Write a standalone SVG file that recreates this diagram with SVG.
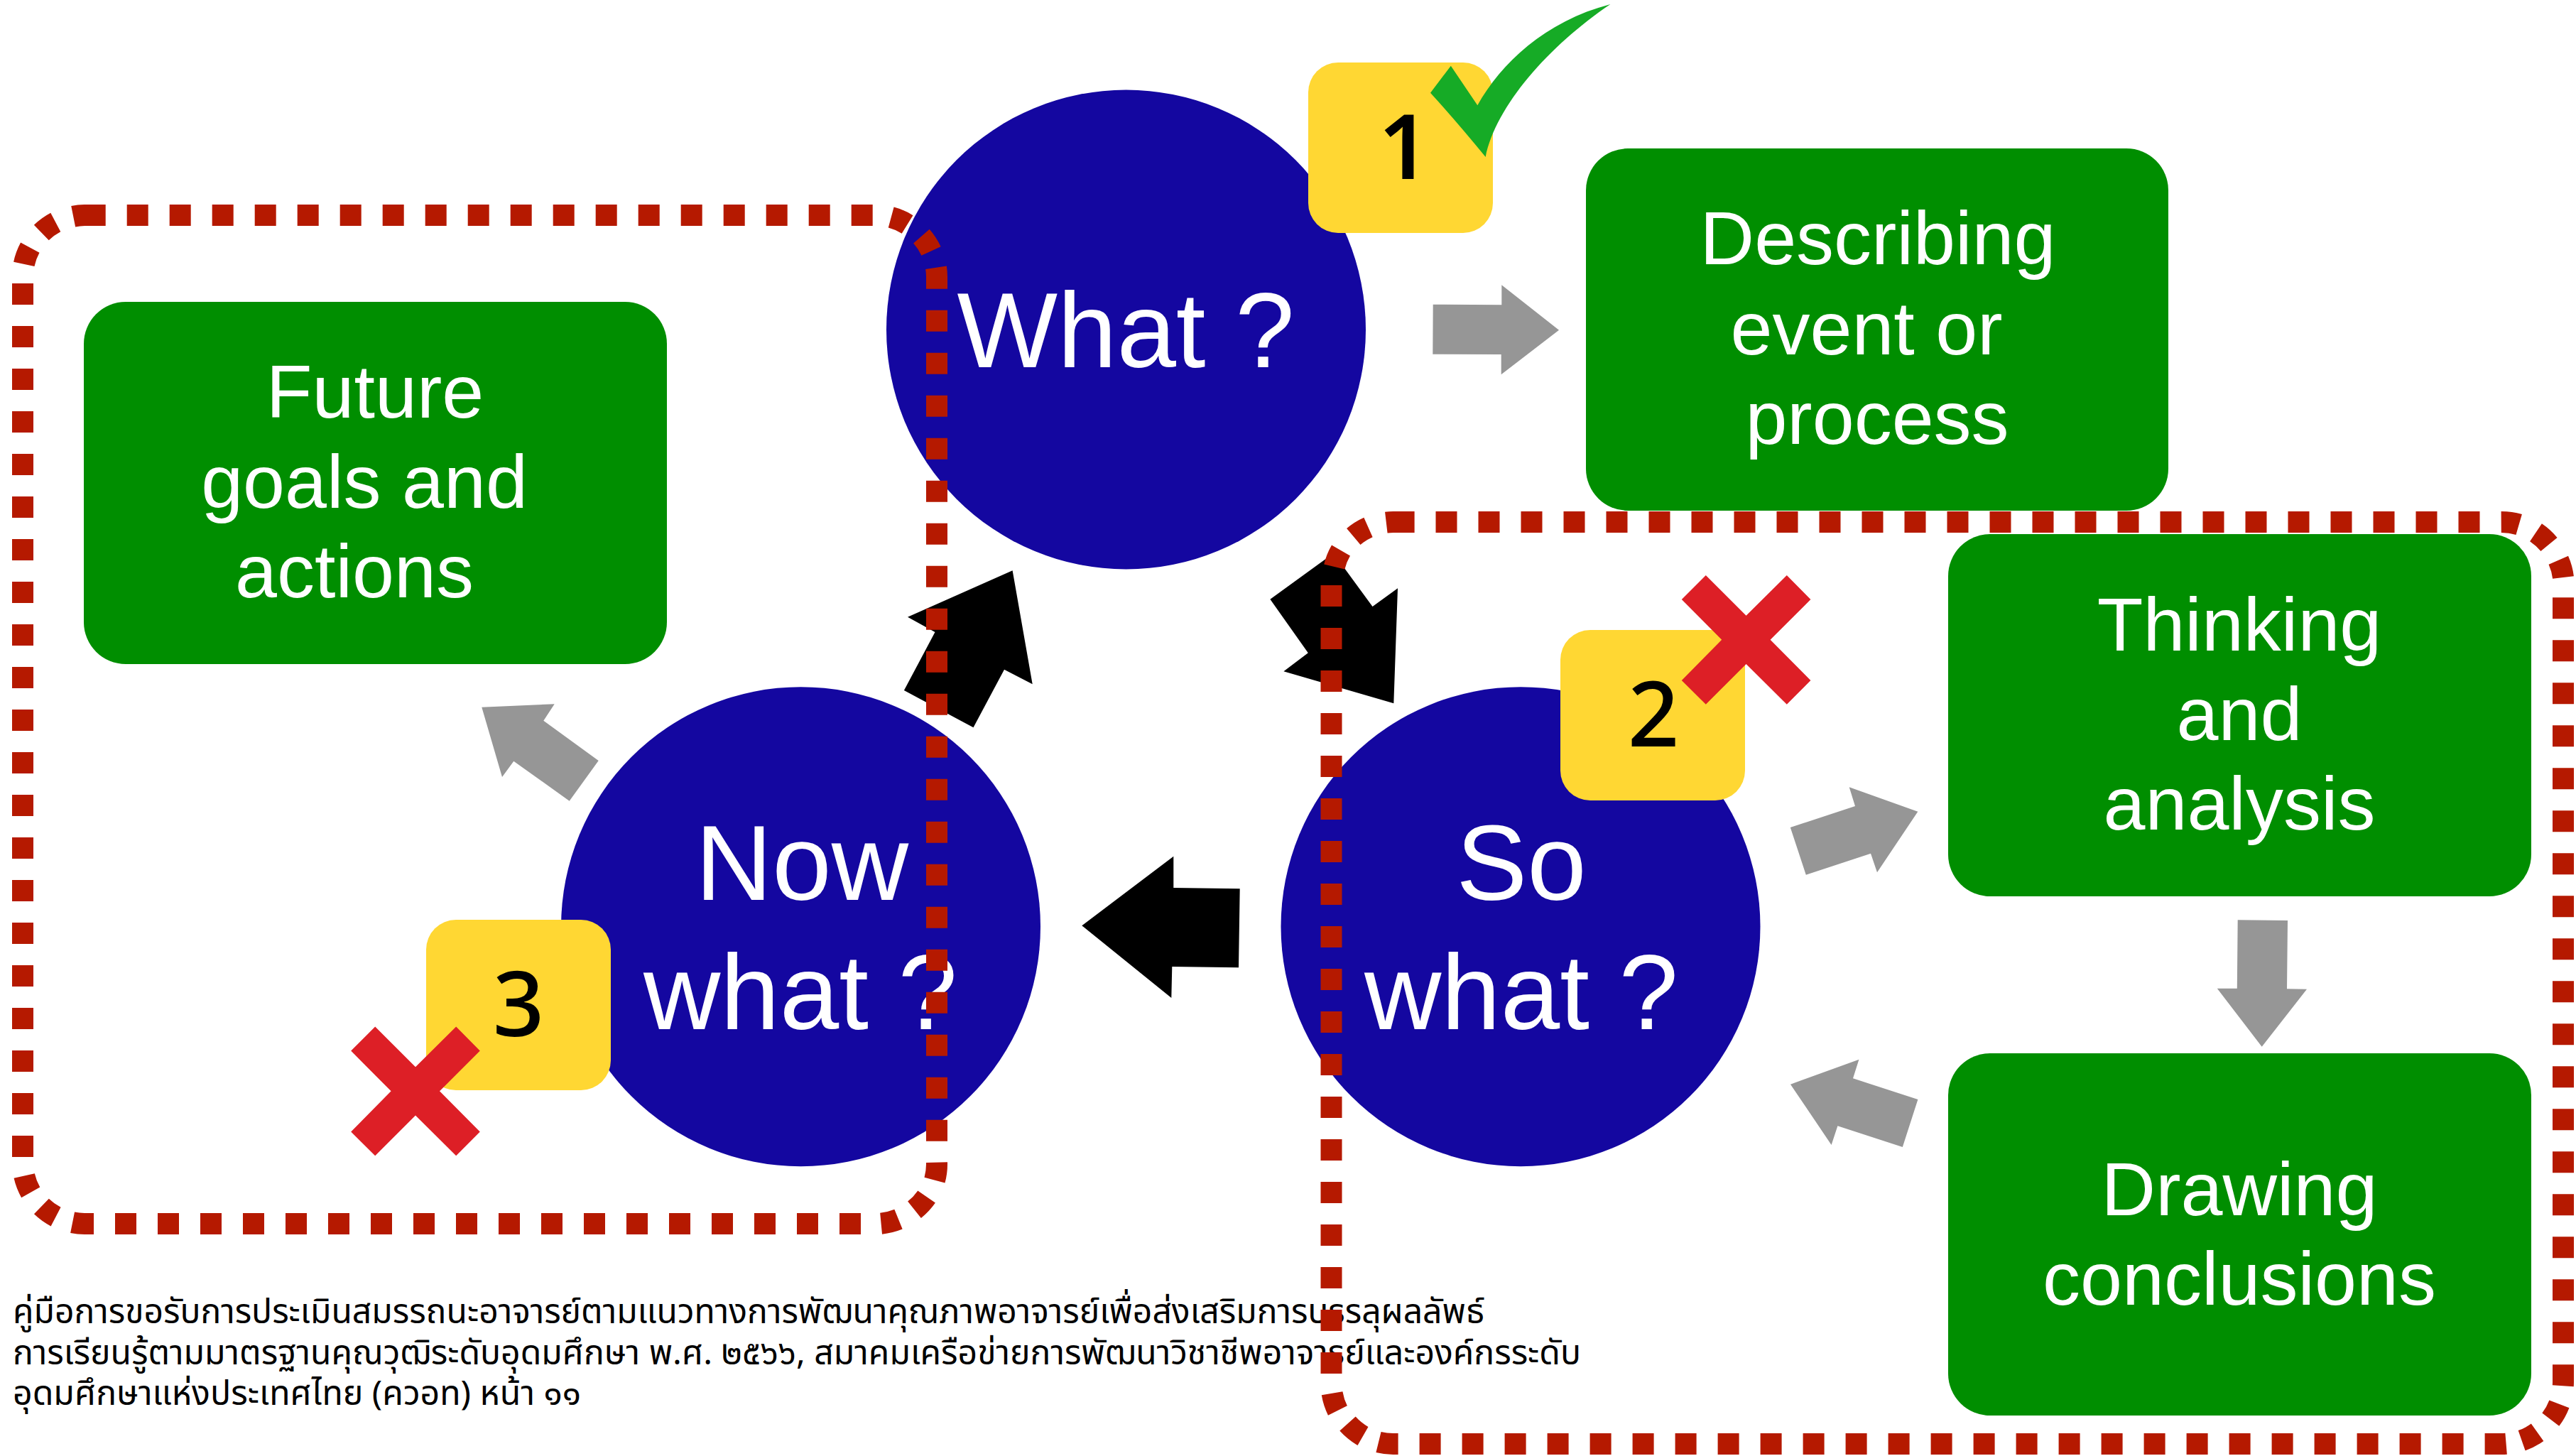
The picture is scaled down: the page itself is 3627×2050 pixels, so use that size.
<svg xmlns="http://www.w3.org/2000/svg" width="3627" height="2050" viewBox="0 0 3627 2050">
<style>
.circle{fill:#1407a0}
.box{fill:#008e00}
.badge{fill:#ffd733}
.big{font-family:"Liberation Sans",Arial,sans-serif;font-size:150px;fill:#fff;text-anchor:middle}
.mid{font-family:"Liberation Sans",Arial,sans-serif;font-size:106px;fill:#fff;text-anchor:middle}
.num{font-family:"Noto Sans",sans-serif;font-size:127px;font-weight:500;fill:#000;text-anchor:middle}
.num1{font-weight:600}
.note{font-family:"Noto Sans Thai","Noto Sans",sans-serif;font-size:47.6px;fill:#000}
.gray{fill:#969696}
.black{fill:#000}
.x{fill:#dd1f26}
.dash{fill:none;stroke:#b51900;stroke-width:30;stroke-dasharray:30 30}
.corner{fill:none;stroke:#b51900;stroke-width:30}
</style>
<defs>
<polygon id="cross" class="x" points="-56.8,-90.7 -90.8,-56.7 -34.4,0 -90.8,57.3 -56.8,91 0,34.3 57.2,91 90.8,57.3 34,0 90.8,-56.7 57.2,-90.7 0,-34"/>
</defs>
<g id="node-what"><circle class="circle" cx="1585.5" cy="464" r="337.5"/><text class="big" x="1585" y="517">What ?</text></g>
<g id="node-sowhat"><circle class="circle" cx="2141" cy="1304.7" r="337.5"/><text class="big" x="2142" y="1267">So</text><text class="big" x="2142" y="1449">what ?</text></g>
<g id="node-nowwhat"><circle class="circle" cx="1127.5" cy="1304.7" r="337.5"/><text class="big" x="1129" y="1267">Now</text><text class="big" x="1127" y="1449">what ?</text></g>
<g id="node-describing"><rect class="box" x="2233" y="209" width="820" height="510" rx="59"/><text class="mid" x="2644" y="372">Describing</text><text class="mid" x="2628" y="499">event or</text><text class="mid" x="2643" y="625">process</text></g>
<g id="node-future"><rect class="box" x="118" y="425" width="821" height="510" rx="59"/><text class="mid" x="528" y="588">Future</text><text class="mid" x="513" y="715">goals and</text><text class="mid" x="499" y="841">actions</text></g>
<g id="node-thinking"><rect class="box" x="2743" y="752" width="821" height="510" rx="59"/><text class="mid" x="3153" y="916">Thinking</text><text class="mid" x="3153" y="1042">and</text><text class="mid" x="3153" y="1168">analysis</text></g>
<g id="node-drawing"><rect class="box" x="2743" y="1483" width="821" height="510" rx="59"/><text class="mid" x="3153" y="1711">Drawing</text><text class="mid" x="3153" y="1837">conclusions</text></g>
<g id="connectors">
<polygon class="gray" points="2017.7,428.7 2114.3,429.3 2114.3,401.3 2195,464.7 2113.7,527.3 2113.7,499 2017.3,498.7"/>
<polygon class="gray" points="2603.7,1108.3 2700.3,1142.7 2643,1228.3 2634,1201.7 2542.8,1231.7 2520.8,1165 2612,1135"/>
<polygon class="gray" points="3150.7,1295.3 3221,1296 3220,1392.3 3248,1392.7 3184.7,1473.7 3121.8,1391.7 3149.8,1391.7"/>
<polygon class="gray" points="2617.4,1491.7 2609,1518.3 2700.4,1548 2678.8,1615 2587.4,1585.3 2578.6,1612 2521,1526.7"/>
<polygon class="gray" points="678.3,995.7 780.7,991.3 765.3,1014.7 842.7,1071 801.7,1127.7 723.3,1071.7 707,1094"/>
<polygon class="black" points="1523.3,1303.3 1652.3,1205.7 1652.3,1250 1745.7,1251.3 1744,1362.3 1650.3,1361 1649.3,1405"/>
<polygon class="black" points="1425.6,803.3 1453.7,963.3 1414,942.7 1370.5,1024.3 1272.9,972 1316.5,890 1278,868.7"/>
<polygon class="black" points="1968,828.3 1962.3,990.3 1807.4,945.3 1841.8,919.3 1788.4,843.7 1877.6,779 1932.5,854"/>
</g>
<g id="badge-1"><rect class="badge" x="1842" y="88" width="260" height="240" rx="42"/><text class="num num1" x="1977" y="252">1</text>
<path fill="#16ab26" d="M2267.4,6C2175,30 2113,90 2080.3,148.3L2042.8,92.7L2014,130.7Q2050,170 2091.7,221C2106,150 2180,65 2267.4,6Z"/></g>
<g id="badge-2"><rect class="badge" x="2197" y="887" width="260" height="240" rx="42"/><text class="num" x="2328" y="1051">2</text><use href="#cross" x="2458.6" y="900.7"/></g>
<g id="badge-3"><rect class="badge" x="600" y="1295" width="260" height="240" rx="42"/><text class="num" x="730" y="1459">3</text><use href="#cross" x="585" y="1536.3"/></g>
<g id="note"><text class="note" x="18" y="1863" textLength="2072" lengthAdjust="spacingAndGlyphs">คู่มือการขอรับการประเมินสมรรถนะอาจารย์ตามแนวทางการพัฒนาคุณภาพอาจารย์เพื่อส่งเสริมการบรรลุผลลัพธ์</text>
<text class="note" x="18" y="1921" textLength="2208" lengthAdjust="spacingAndGlyphs">การเรียนรู้ตามมาตรฐานคุณวุฒิระดับอุดมศึกษา พ.ศ. ๒๕๖๖, สมาคมเครือข่ายการพัฒนาวิชาชีพอาจารย์และองค์กรระดับ</text>
<text class="note" x="18" y="1978" textLength="800" lengthAdjust="spacingAndGlyphs">อุดมศึกษาแห่งประเทศไทย (ควอท) หน้า ๑๑</text></g>
<g id="dashed-frame-left">
<path class="dash" d="M178.7,303H1228.7M1319,436.7V1606.7M1212,1723H162M32,1629V399"/>
<path class="corner" d="M103.2,304.7A87,87 0 0 1 119,303H148.7M78.3,313A87,87 0 0 0 58.3,327.5M42.3,348.7A87,87 0 0 0 33.8,371.8M1254.7,306A87,87 0 0 1 1277.6,315.9M1297.4,332.6A87,87 0 0 1 1311,353.5M1318,376.8A87,87 0 0 1 1319,390V406.7M1319,1636.7A87,87 0 0 1 1316,1661.7M1304.6,1685A87,87 0 0 1 1287.5,1703.3M1265,1716.7A87,87 0 0 1 1240.6,1722.7M132,1723H119A87,87 0 0 1 102.1,1721.3M78.6,1713.1A87,87 0 0 1 58.4,1698.5M43.2,1678.8A87,87 0 0 1 34.2,1655.5"/>
</g>
<g id="dashed-frame-right">
<path class="dash" d="M2021.5,735H3491.7M3609,841.3V1891.3M3468.6,2033H1998.6M1874.5,1934V824"/>
<path class="corner" d="M1951.8,735.6A87,87 0 0 1 1961.5,735H1991.6M1926.5,742.5A87,87 0 0 0 1905.8,755.5M1888,775A87,87 0 0 0 1878.8,798M3521.7,735A87,87 0 0 1 3546.7,738.5M3570.5,749.7A87,87 0 0 1 3589,766.5M3602.3,788.8A87,87 0 0 1 3609,813M3609,1921.3V1946A87,87 0 0 1 3608.8,1951.3M3603.4,1976.8A87,87 0 0 1 3591.3,1998.6M3572.6,2016.8A87,87 0 0 1 3550.6,2028.2M3528.6,2032.7A87,87 0 0 1 3522,2033H3498.6M1968.6,2033H1961.5A87,87 0 0 1 1941,2030.5M1919,2022A87,87 0 0 1 1897.5,2004.6M1883.4,1986A87,87 0 0 1 1875.6,1961.8"/>
</g>
</svg>
